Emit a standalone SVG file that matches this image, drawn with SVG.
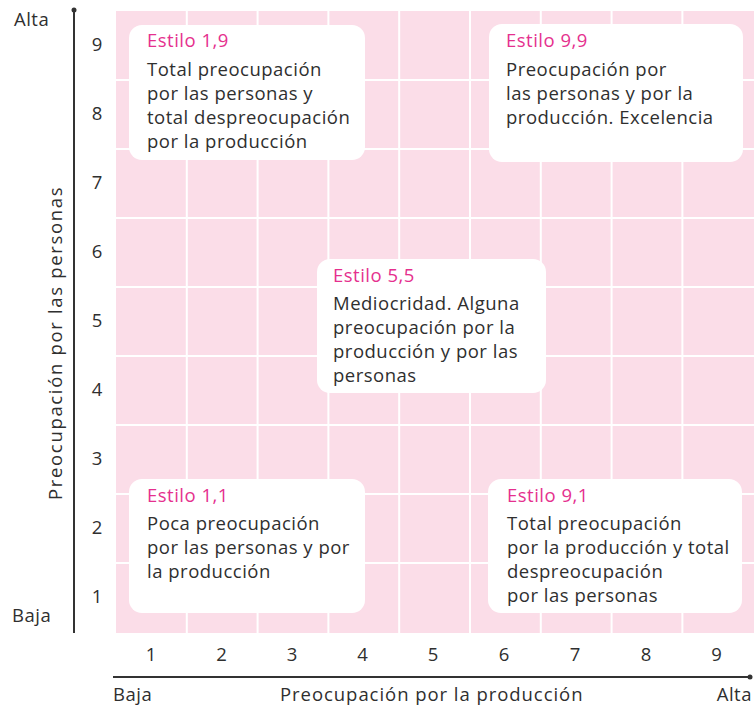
<svg xmlns="http://www.w3.org/2000/svg" width="754" height="709" viewBox="0 0 754 709">
<style>
text{font-family:"Open Sans","Liberation Sans",sans-serif;fill:#2f2f2f;font-weight:500;font-size:18.5px;letter-spacing:0.5px}
.t{fill:#e5308e}
.n{text-anchor:middle;letter-spacing:0}
.box{fill:#ffffff}
.grid{stroke:#ffffff;stroke-width:2}
.axis{stroke:#333333;stroke-width:2;fill:none}
</style>
<rect x="0" y="0" width="754" height="709" fill="#ffffff"/>
<g id="grid">
<rect x="116" y="11" width="638" height="622" fill="#fbdde8"/>
<path class="grid" d="M186.8 11V633M257.6 11V633M328.4 11V633M399.2 11V633M470 11V633M540.8 11V633M611.6 11V633M682.4 11V633M116 80H754M116 149H754M116 218H754M116 287H754M116 356H754M116 425H754M116 494H754M116 563H754"/>
</g>
<g id="axes">
<path class="axis" d="M74 10V633M113 677H750"/>
<circle cx="74" cy="10" r="2.5" fill="#333"/>
<circle cx="750" cy="677" r="2.5" fill="#333"/>
<text x="14" y="26">Alta</text>
<text x="12" y="622">Baja</text>
<text x="113" y="701">Baja</text>
<text x="752" y="701" text-anchor="end">Alta</text>
<text x="431.5" y="701" text-anchor="middle" textLength="303">Preocupación por la producción</text>
<text transform="translate(62 343.5) rotate(-90)" text-anchor="middle" textLength="313">Preocupación por las personas</text>
<g id="yticks">
<text class="n" x="97" y="51">9</text>
<text class="n" x="97" y="120">8</text>
<text class="n" x="97" y="189">7</text>
<text class="n" x="97" y="258">6</text>
<text class="n" x="97" y="327">5</text>
<text class="n" x="97" y="396">4</text>
<text class="n" x="97" y="465">3</text>
<text class="n" x="97" y="534">2</text>
<text class="n" x="97" y="603">1</text>
</g>
<g id="xticks">
<text class="n" x="151" y="661">1</text>
<text class="n" x="221.5" y="661">2</text>
<text class="n" x="292" y="661">3</text>
<text class="n" x="362.5" y="661">4</text>
<text class="n" x="433" y="661">5</text>
<text class="n" x="504" y="661">6</text>
<text class="n" x="575" y="661">7</text>
<text class="n" x="646" y="661">8</text>
<text class="n" x="716.5" y="661">9</text>
</g>
</g>
<g id="estilo19">
<rect class="box" x="129" y="25" width="236" height="135" rx="13"/>
<text class="t" x="147" y="47">Estilo 1,9</text>
<text x="147" y="76">Total preocupación</text>
<text x="147" y="100">por las personas y</text>
<text x="147" y="124">total despreocupación</text>
<text x="147" y="148">por la producción</text>
</g>
<g id="estilo99">
<rect class="box" x="489" y="24" width="254" height="138" rx="13"/>
<text class="t" x="506" y="47">Estilo 9,9</text>
<text x="506" y="76">Preocupación por</text>
<text x="506" y="100">las personas y por la</text>
<text x="506" y="124">producción. Excelencia</text>
</g>
<g id="estilo55">
<rect class="box" x="317" y="259" width="229" height="134" rx="13"/>
<text class="t" x="333" y="282">Estilo 5,5</text>
<text x="333" y="310">Mediocridad. Alguna</text>
<text x="333" y="334">preocupación por la</text>
<text x="333" y="358">producción y por las</text>
<text x="333" y="382">personas</text>
</g>
<g id="estilo11">
<rect class="box" x="129" y="479" width="236" height="134" rx="13"/>
<text class="t" x="147" y="502">Estilo 1,1</text>
<text x="147" y="530">Poca preocupación</text>
<text x="147" y="554">por las personas y por</text>
<text x="147" y="578">la producción</text>
</g>
<g id="estilo91">
<rect class="box" x="488" y="479" width="254" height="134" rx="13"/>
<text class="t" x="507" y="502">Estilo 9,1</text>
<text x="507" y="530">Total preocupación</text>
<text x="507" y="554">por la producción y total</text>
<text x="507" y="578">despreocupación</text>
<text x="507" y="602">por las personas</text>
</g>
</svg>
